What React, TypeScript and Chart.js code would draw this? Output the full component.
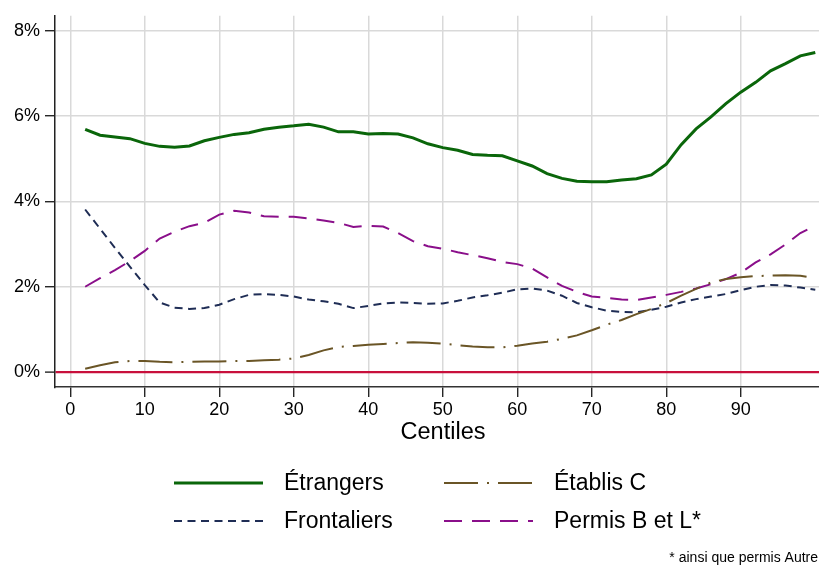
import React, { useEffect, useRef } from "react";
import { Chart, registerables } from "chart.js";

Chart.register(...registerables);

// ---------- data ----------
const centiles = [
  2, 4, 6, 8, 10, 12, 14, 16, 18, 20,
  22, 24, 26, 28, 30, 32, 34, 36, 38, 40,
  42, 44, 46, 48, 50, 52, 54, 56, 58, 60,
  62, 64, 66, 68, 70, 72, 74, 76, 78, 80,
  82, 84, 86, 88, 90, 92, 94, 96, 98, 100,
];

const etrangers = [
  5.69, 5.55, 5.51, 5.47, 5.36, 5.29, 5.27, 5.30, 5.42, 5.50,
  5.57, 5.61, 5.69, 5.74, 5.77, 5.81, 5.74, 5.63, 5.63, 5.58,
  5.59, 5.58, 5.49, 5.35, 5.26, 5.20, 5.10, 5.08, 5.07, 4.95,
  4.83, 4.65, 4.54, 4.47, 4.46, 4.46, 4.50, 4.53, 4.62, 4.87,
  5.33, 5.70, 5.98, 6.29, 6.56, 6.79, 7.06, 7.23, 7.41, 7.49,
];

const frontaliers = [
  3.81, 3.36, 2.91, 2.47, 2.04, 1.63, 1.51, 1.48, 1.50, 1.58,
  1.71, 1.81, 1.83, 1.81, 1.77, 1.70, 1.66, 1.60, 1.50, 1.55,
  1.61, 1.63, 1.62, 1.60, 1.61, 1.67, 1.75, 1.80, 1.86, 1.94,
  1.96, 1.91, 1.79, 1.62, 1.52, 1.44, 1.41, 1.40, 1.46, 1.53,
  1.63, 1.71, 1.77, 1.83, 1.92, 2.00, 2.04, 2.03, 1.98, 1.93,
];

const etablisC = [
  0.08, 0.16, 0.23, 0.26, 0.26, 0.24, 0.23, 0.24, 0.25, 0.25,
  0.26, 0.26, 0.28, 0.29, 0.32, 0.40, 0.51, 0.59, 0.61, 0.64,
  0.66, 0.68, 0.70, 0.69, 0.67, 0.63, 0.60, 0.58, 0.58, 0.62,
  0.67, 0.71, 0.78, 0.86, 0.98, 1.11, 1.22, 1.36, 1.48, 1.62,
  1.79, 1.95, 2.10, 2.18, 2.22, 2.25, 2.26, 2.27, 2.26, 2.20,
];

const permisBL = [
  2.00, 2.20, 2.39, 2.60, 2.84, 3.13, 3.29, 3.42, 3.50, 3.69,
  3.78, 3.74, 3.65, 3.64, 3.64, 3.60, 3.55, 3.50, 3.40, 3.43,
  3.41, 3.26, 3.07, 2.95, 2.89, 2.81, 2.74, 2.67, 2.58, 2.53,
  2.43, 2.22, 2.02, 1.88, 1.77, 1.74, 1.70, 1.69, 1.75, 1.81,
  1.88, 1.96, 2.06, 2.18, 2.33, 2.57, 2.76, 2.99, 3.26, 3.43,
];

const xTickValues = [0, 10, 20, 30, 40, 50, 60, 70, 80, 90];
const yTickValues = [0, 2, 4, 6, 8];

const seriesLabels = ["Étrangers", "Établis C", "Frontaliers", "Permis B et L*"];
const xTitle = "Centiles";
const footnote = "* ainsi que permis Autre";

// ---------- styles ----------
const FONT = "'Liberation Sans', Arial, Helvetica, sans-serif";
const GREEN = "#0a660a";
const BROWN = "#6a5526";
const NAVY = "#1f2d55";
const PURPLE = "#8a0f8a";
const RED = "#c8103c";
const GRID = "#d9d9d9";

const toPoints = (ys: number[]) => centiles.map((x, i) => ({ x, y: ys[i] }));

const legendPlugin = {
  id: "stataLegend",
  afterDraw(chart: any) {
    const ctx = chart.ctx as CanvasRenderingContext2D;
    const ds = chart.data.datasets;
    const placements = [
      { i: 0, x: 174, y: 483 },
      { i: 1, x: 444, y: 483 },
      { i: 2, x: 174, y: 521 },
      { i: 3, x: 444, y: 521 },
    ];
    ctx.save();
    // x-axis title, centred as in the reference
    ctx.fillStyle = "#000";
    ctx.font = `23.5px ${FONT}`;
    ctx.textAlign = "center";
    ctx.textBaseline = "middle";
    ctx.fillText(xTitle, 443, 433);

    for (const p of placements) {
      const d = ds[p.i];
      ctx.strokeStyle = d.borderColor;
      ctx.lineWidth = d.borderWidth;
      ctx.setLineDash(d.borderDash || []);
      ctx.lineCap = "butt";
      ctx.beginPath();
      ctx.moveTo(p.x, p.y);
      ctx.lineTo(p.x + 89, p.y);
      ctx.stroke();
      ctx.setLineDash([]);
      ctx.fillStyle = "#000";
      ctx.font = `23px ${FONT}`;
      ctx.textAlign = "left";
      ctx.textBaseline = "middle";
      ctx.fillText(d.label, p.x + 110, p.y + 1);
    }
    ctx.font = `14px ${FONT}`;
    ctx.textAlign = "right";
    ctx.textBaseline = "middle";
    ctx.fillStyle = "#000";
    ctx.fillText(footnote, 818, 558);
    ctx.restore();
  },
};

export default function App() {
  const canvasRef = useRef<HTMLCanvasElement | null>(null);

  useEffect(() => {
    if (!canvasRef.current) return;
    Chart.defaults.font.family = FONT;
    const chart = new Chart(canvasRef.current, {
      type: "line",
      data: {
        datasets: [
          {
            label: seriesLabels[0],
            data: toPoints(etrangers),
            borderColor: GREEN,
            borderWidth: 3,
            pointRadius: 0,
            tension: 0,
            fill: false,
          },
          {
            label: seriesLabels[1],
            data: toPoints(etablisC),
            borderColor: BROWN,
            borderWidth: 2,
            borderDash: [34, 9, 2, 9],
            pointRadius: 0,
            tension: 0,
            fill: false,
          },
          {
            label: seriesLabels[2],
            data: toPoints(frontaliers),
            borderColor: NAVY,
            borderWidth: 2,
            borderDash: [8, 5.5],
            pointRadius: 0,
            tension: 0,
            fill: false,
          },
          {
            label: seriesLabels[3],
            data: toPoints(permisBL),
            borderColor: PURPLE,
            borderWidth: 2,
            borderDash: [18, 10],
            pointRadius: 0,
            tension: 0,
            fill: false,
          },
        ],
      },
      options: {
        responsive: false,
        animation: false,
        devicePixelRatio: 1,
        layout: { padding: { top: 13, left: 0, right: 0, bottom: 120 } },
        plugins: {
          legend: { display: false },
          tooltip: { enabled: false },
        },
        scales: {
          x: {
            type: "linear",
            min: -2.05,
            max: 100.5,
            afterBuildTicks: (s: any) => {
              s.ticks = xTickValues.map((v) => ({ value: v }));
            },
            afterFit: (s: any) => {
              s.height = 60;
            },
            grid: {
              color: GRID,
              lineWidth: 1.5,
              tickColor: "#000",
              tickLength: 10,
              tickWidth: 1.2,
            },
            border: { display: true, color: "#333", width: 1.5 },
            ticks: {
              color: "#000",
              font: { size: 18 },
              padding: 2,
              maxRotation: 0,
              autoSkip: false,
              callback: (v: any) => String(v),
            },
            title: { display: false },
          },
          y: {
            type: "linear",
            min: -0.349,
            max: 8.349,
            afterBuildTicks: (s: any) => {
              s.ticks = yTickValues.map((v) => ({ value: v }));
            },
            afterFit: (s: any) => {
              s.width = 55;
            },
            grid: {
              color: (c: any) => (c.tick && c.tick.value === 0 ? RED : GRID),
              lineWidth: (c: any) => (c.tick && c.tick.value === 0 ? 2.2 : 1.5),
              tickColor: "#000",
              tickLength: 10,
              tickWidth: 1.2,
            },
            border: { display: true, color: "#222", width: 1.5 },
            ticks: {
              color: "#000",
              font: { size: 18 },
              padding: 5,
              autoSkip: false,
              callback: (v: any) => `${v}%`,
            },
          },
        },
      },
      plugins: [legendPlugin],
    } as any);
    return () => chart.destroy();
  }, []);

  return (
    <div style={{ position: "absolute", left: 0, top: 0, width: 819, height: 567, background: "#fff" }}>
      <canvas ref={canvasRef} width={819} height={567} style={{ display: "block" }} />
    </div>
  );
}
